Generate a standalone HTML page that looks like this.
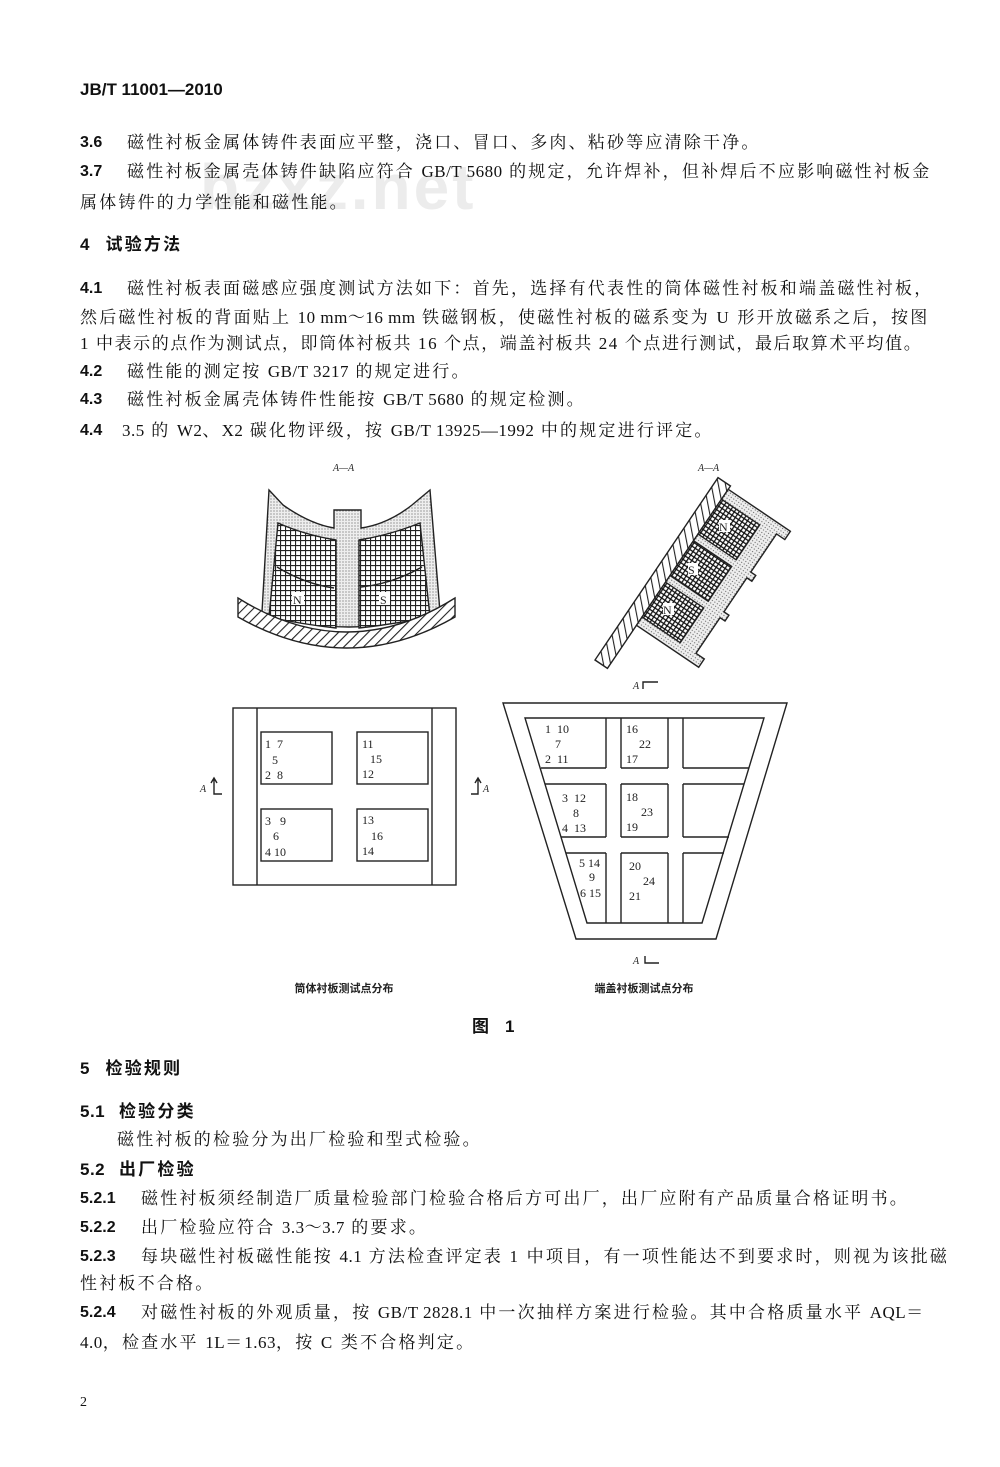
<!DOCTYPE html>
<html><head><meta charset="utf-8"><style>
body{margin:0;background:#fff;}
#p{position:relative;width:1000px;height:1467px;overflow:hidden;background:#fff;font-family:"Liberation Serif","Noto Serif CJK SC","Noto Sans CJK SC",serif;color:#111;}
.t{position:absolute;font-size:17px;letter-spacing:2.2px;white-space:nowrap;line-height:20px;}
.t i{font-style:normal;letter-spacing:0.5px;}
.j{width:835px;text-align:justify;text-align-last:justify;}
.n{position:absolute;font-family:"Liberation Sans",sans-serif;font-weight:bold;font-size:16px;line-height:20px;}
.h{font-family:"Liberation Sans","Noto Sans CJK SC",sans-serif;font-weight:bold;}
svg{position:absolute;left:0;top:0;}
</style></head><body><div id="p">
<div style="position:absolute;left:200px;top:150px;font:bold 64px 'Liberation Sans',sans-serif;color:#ececec;letter-spacing:3px">bzxz.net</div>
<div class="n" style="left:80px;top:80px;font-size:17px;">JB/T 11001—2010</div>

<div class="n" style="left:80px;top:133px">3.6</div>
<div class="t" style="left:127px;top:133px">磁性衬板金属体铸件表面应平整，浇口、冒口、多肉、粘砂等应清除干净。</div>
<div class="n" style="left:80px;top:162px">3.7</div>
<div class="t j" style="left:127px;top:162px;width:788px">磁性衬板金属壳体铸件缺陷应符合 <i>GB/T 5680</i> 的规定，允许焊补，但补焊后不应影响磁性衬板金</div>
<div class="t" style="left:80px;top:193px">属体铸件的力学性能和磁性能。</div>

<div class="t h" style="left:80px;top:235px">4&nbsp;&nbsp;试验方法</div>
<div class="n" style="left:80px;top:279px">4.1</div>
<div class="t j" style="left:127px;top:279px;width:788px">磁性衬板表面磁感应强度测试方法如下：首先，选择有代表性的筒体磁性衬板和端盖磁性衬板，</div>
<div class="t j" style="left:80px;top:308px">然后磁性衬板的背面贴上 <i>10 mm～16 mm</i> 铁磁钢板，使磁性衬板的磁系变为 U 形开放磁系之后，按图</div>
<div class="t j" style="left:80px;top:334px;letter-spacing:1.6px">1 中表示的点作为测试点，即筒体衬板共 16 个点，端盖衬板共 24 个点进行测试，最后取算术平均值。</div>
<div class="n" style="left:80px;top:362px">4.2</div>
<div class="t" style="left:127px;top:362px">磁性能的测定按 <i>GB/T 3217</i> 的规定进行。</div>
<div class="n" style="left:80px;top:390px">4.3</div>
<div class="t" style="left:127px;top:390px">磁性衬板金属壳体铸件性能按 <i>GB/T 5680</i> 的规定检测。</div>
<div class="n" style="left:80px;top:421px">4.4</div>
<div class="t" style="left:122px;top:421px"><i>3.5</i> 的 <i>W2</i>、<i>X2</i> 碳化物评级，按 <i>GB/T 13925—1992</i> 中的规定进行评定。</div>

<svg width="1000" height="1467" viewBox="0 0 1000 1467" font-family="Liberation Serif,serif">
<defs>
<pattern id="dot" width="3" height="3" patternUnits="userSpaceOnUse"><rect width="3" height="3" fill="#eee"/><circle cx="1" cy="1" r="0.6" fill="#666"/></pattern>
<pattern id="mesh" width="5" height="5" patternUnits="userSpaceOnUse"><rect width="5" height="5" fill="#fff"/><path d="M0 0.5H5M0.5 0V5" stroke="#222" stroke-width="1.2"/></pattern>
<pattern id="mesh2" width="4" height="4" patternUnits="userSpaceOnUse"><rect width="4" height="4" fill="#fff"/><path d="M0 0.6H4M0.6 0V4" stroke="#111" stroke-width="1.4"/></pattern>
<pattern id="hat" width="7" height="7" patternUnits="userSpaceOnUse" patternTransform="rotate(45)"><rect width="7" height="7" fill="#fff"/><path d="M0 0V7" stroke="#222" stroke-width="2.2"/></pattern>
</defs>
<g stroke="#222" stroke-width="1.4" fill="none">
<!-- left cross-section -->
<text x="333" y="471" font-size="10" font-style="italic" fill="#222" stroke="none">A—A</text>
<path d="M269,490 L283,505 Q310,524 334,528 L334,510 L361,510 L361,528 Q388,524 412,505 L430,490 L440,612 Q347,642 262,612 Z" fill="url(#dot)"/>
<path d="M278,523 Q305,535 336,540 L336,628 Q300,624 269,617 Z" fill="url(#mesh)"/>
<path d="M359,540 Q390,535 420,523 L430,617 Q395,624 359,628 Z" fill="url(#mesh)"/>
<path d="M277,567 Q305,584 334,588 M361,587 Q392,584 422,567"/>
<rect x="292" y="592" width="12" height="13" fill="#fff" stroke="none"/><text x="293" y="604" font-size="12" fill="#222" stroke="none">N</text>
<rect x="379" y="592" width="11" height="13" fill="#fff" stroke="none"/><text x="380" y="604" font-size="12" fill="#222" stroke="none">S</text>
<path d="M238,598 Q347,666 455,598 L455,617 Q347,679 238,617 Z" fill="url(#hat)"/>
<!-- right cross-section -->
<text x="698" y="471" font-size="10" font-style="italic" fill="#222" stroke="none">A—A</text>
<g transform="translate(595,660) rotate(-56)">
<rect x="0" y="0" width="220" height="15" fill="url(#hat)"/>
<path d="M52,15 H216 V90 H206 V80 H160 V86 H153 V80 H112 V86 H105 V80 H62 V90 H52 Z" fill="url(#dot)"/>
<rect x="62" y="15" width="42" height="46" fill="url(#mesh2)"/>
<rect x="112" y="15" width="42" height="46" fill="url(#mesh2)"/>
<rect x="162" y="15" width="42" height="46" fill="url(#mesh2)"/>
</g>
<g fill="#222" stroke="none" font-size="12">
<rect x="719" y="520" width="11" height="12" fill="#fff"/><text x="719" y="531">N</text>
<rect x="688" y="563" width="10" height="12" fill="#fff"/><text x="688" y="574">S</text>
<rect x="663" y="603" width="11" height="12" fill="#fff"/><text x="663" y="614">N</text>
</g>
<text x="633" y="689" font-size="10" font-style="italic" fill="#222" stroke="none">A</text>
<path d="M643,689 V682 H658"/>
<!-- left plan -->
<rect x="233" y="708" width="223" height="177"/>
<path d="M257,708V885M432,708V885"/>
<rect x="261" y="732" width="71" height="52"/>
<rect x="357" y="732" width="71" height="52"/>
<rect x="261" y="809" width="71" height="52"/>
<rect x="357" y="809" width="71" height="52"/>
<g fill="#222" stroke="none" font-size="12">
<text x="265" y="748">1&#160;&#160;7</text><text x="272" y="764">5</text><text x="265" y="779">2&#160;&#160;8</text>
<text x="265" y="825">3&#160;&#160;&#160;9</text><text x="273" y="840">6</text><text x="265" y="856">4&#160;10</text>
<text x="362" y="748">11</text><text x="370" y="763">15</text><text x="362" y="778">12</text>
<text x="362" y="824">13</text><text x="371" y="840">16</text><text x="362" y="855">14</text>
<text x="200" y="792" font-size="10" font-style="italic">A</text>
<text x="483" y="792" font-size="10" font-style="italic">A</text>
</g>
<path d="M214,778 V794 H222 M211,783 L214,778 L217,783 M478,778 V794 H471 M475,783 L478,778 L481,783"/>
<!-- trapezoid -->
<path d="M503,703 H787 L716,939 H576 Z"/>
<path d="M525,718 H764 L702,923 H587 Z"/>
<path d="M606,718V768 M621,718V768 M668,718V768 M683,718V768"/>
<path d="M541,768 H606 M621,768 H668 M683,768 H749 M545,784 H606 M621,784 H668 M683,784 H744"/>
<path d="M606,784V837 M621,784V837 M668,784V837 M683,784V837"/>
<path d="M561,837 H606 M621,837 H668 M683,837 H729 M566,853 H606 M621,853 H668 M683,853 H724"/>
<path d="M606,853V923 M621,853V923 M668,853V923 M683,853V923"/>
<g fill="#222" stroke="none" font-size="12">
<text x="545" y="733">1&#160;&#160;10</text><text x="555" y="748">7</text><text x="545" y="763">2&#160;&#160;11</text>
<text x="626" y="733">16</text><text x="639" y="748">22</text><text x="626" y="763">17</text>
<text x="562" y="802">3&#160;&#160;12</text><text x="573" y="817">8</text><text x="562" y="832">4&#160;&#160;13</text>
<text x="626" y="801">18</text><text x="641" y="816">23</text><text x="626" y="831">19</text>
<text x="579" y="867">5 14</text><text x="589" y="881">9</text><text x="580" y="897">6 15</text>
<text x="629" y="870">20</text><text x="643" y="885">24</text><text x="629" y="900">21</text>
<text x="633" y="964" font-size="10" font-style="italic">A</text>
</g>
<path d="M645,956 V963 H659"/>
</g>
<g font-family="Liberation Sans,Noto Sans CJK SC,sans-serif" font-size="11" font-weight="bold" fill="#222" text-anchor="middle">
<text x="344" y="992">筒体衬板测试点分布</text>
<text x="644" y="992">端盖衬板测试点分布</text>
</g>
</svg>

<div class="t h" style="left:472px;top:1017px">图&nbsp;&nbsp;1</div>
<div class="t h" style="left:80px;top:1059px">5&nbsp;&nbsp;检验规则</div>
<div class="t h" style="left:80px;top:1102px"><i>5.1</i>&nbsp;&nbsp;检验分类</div>
<div class="t" style="left:117px;top:1130px">磁性衬板的检验分为出厂检验和型式检验。</div>
<div class="t h" style="left:80px;top:1160px"><i>5.2</i>&nbsp;&nbsp;出厂检验</div>
<div class="n" style="left:80px;top:1189px">5.2.1</div>
<div class="t" style="left:141px;top:1189px">磁性衬板须经制造厂质量检验部门检验合格后方可出厂，出厂应附有产品质量合格证明书。</div>
<div class="n" style="left:80px;top:1218px">5.2.2</div>
<div class="t" style="left:141px;top:1218px">出厂检验应符合 <i>3.3～3.7</i> 的要求。</div>
<div class="n" style="left:80px;top:1247px">5.2.3</div>
<div class="t j" style="left:141px;top:1247px;width:774px">每块磁性衬板磁性能按 <i>4.1</i> 方法检查评定表 1 中项目，有一项性能达不到要求时，则视为该批磁</div>
<div class="t" style="left:80px;top:1274px">性衬板不合格。</div>
<div class="n" style="left:80px;top:1303px">5.2.4</div>
<div class="t j" style="left:141px;top:1303px;width:774px">对磁性衬板的外观质量，按 <i>GB/T 2828.1</i> 中一次抽样方案进行检验。其中合格质量水平 <i>AQL</i>＝</div>
<div class="t" style="left:80px;top:1333px"><i>4.0</i>，检查水平 <i>1L</i>＝<i>1.63</i>，按 C 类不合格判定。</div>
<div class="t" style="left:80px;top:1393px;font-size:14px">2</div>
</div></body></html>
